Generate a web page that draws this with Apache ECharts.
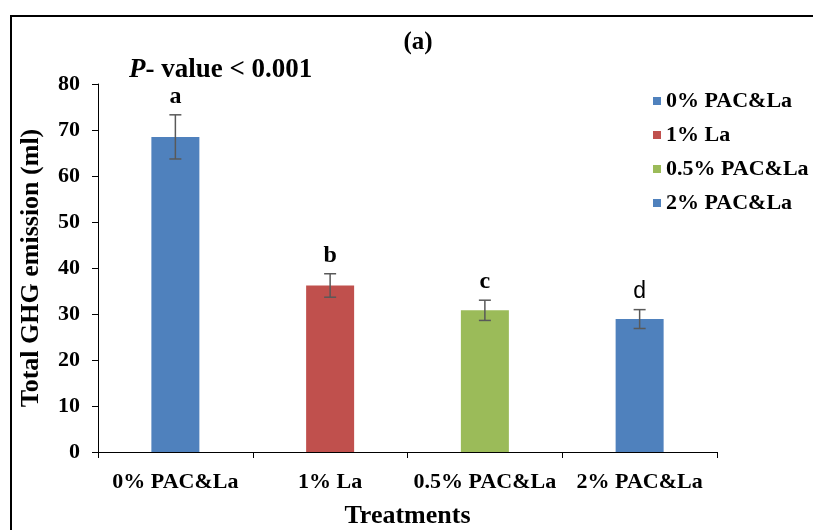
<!DOCTYPE html>
<html><head><meta charset="utf-8">
<script src="https://cdn.jsdelivr.net/npm/echarts@6/dist/echarts.min.js"></script>
<style>html,body{margin:0;padding:0;background:#fff}#c{width:813px;height:530px}</style>
</head><body><div id="c"></div>
<script>
const categories = ['0% PAC&La', '1% La', '0.5% PAC&La', '2% PAC&La'];
const legendNames = ['0% PAC&La', '1% La', '0.5% PAC&La', '2% PAC&La'];
const means = [68.5, 36.2, 30.8, 28.9];
const errors = [4.8, 2.55, 2.2, 2.05];
const letters = ['a', 'b', 'c', 'd'];
const colors = ['#4F81BD', '#C0504D', '#9BBB59', '#4F81BD'];
const yTicks = [0, 10, 20, 30, 40, 50, 60, 70, 80];

const serif = '"Liberation Serif", "Times New Roman", serif';
const chart = echarts.init(document.getElementById('c'));

const barSeries = categories.map((c, i) => ({
  name: legendNames[i],
  type: 'bar',
  data: categories.map((_, j) => j === i ? means[j] : '-'),
  barWidth: 48,
  barGap: '-100%',
  itemStyle: { color: colors[i] },
  z: 2
}));

const errSeries = {
  type: 'custom',
  z: 5,
  data: means.map((m, i) => [i, m, errors[i]]),
  renderItem: function (params, api) {
    const i = api.value(0), m = api.value(1), e = api.value(2);
    const top = api.coord([i, m + e]);
    const bot = api.coord([i, m - e]);
    const hw = 6;
    const st = { stroke: '#595959', lineWidth: 1.5 };
    const letter = letters[i];
    const isD = letter === 'd';
    return {
      type: 'group',
      children: [
        { type: 'line', shape: { x1: top[0], y1: top[1], x2: bot[0], y2: bot[1] }, style: st },
        { type: 'line', shape: { x1: top[0] - hw, y1: top[1], x2: top[0] + hw, y2: top[1] }, style: st },
        { type: 'line', shape: { x1: bot[0] - hw, y1: bot[1], x2: bot[0] + hw, y2: bot[1] }, style: st },
        { type: 'text', style: {
            text: letter, x: top[0], y: top[1] - 18,
            align: 'center', verticalAlign: 'middle',
            font: isD ? 'normal 23px "Liberation Sans", Arial, sans-serif' : 'bold 24px ' + serif,
            fill: '#000'
        } }
      ]
    };
  }
};

chart.setOption({
  animation: false,
  backgroundColor: '#fff',
  grid: { left: 98, right: 96, top: 84, bottom: 78, containLabel: false, outerBoundsMode: 'none' },
  title: [
    { text: '(a)', left: 413, top: 25, textAlign: 'center',
      textStyle: { fontFamily: serif, fontWeight: 'bold', fontSize: 25, color: '#000' } },
    { text: '{i|P}{n|- value < 0.001}', left: 124, top: 52,
      textStyle: { rich: {
        i: { fontFamily: serif, fontWeight: 'bold', fontStyle: 'italic', fontSize: 27, color: '#000' },
        n: { fontFamily: serif, fontWeight: 'bold', fontSize: 27, color: '#000' } } } }
  ],
  legend: {
    orient: 'vertical', left: 648, top: 85, itemGap: 12,
    icon: 'rect', itemWidth: 8, itemHeight: 8,
    data: legendNames,
    textStyle: { fontFamily: serif, fontWeight: 'bold', fontSize: 22, color: '#000' }
  },
  xAxis: {
    type: 'category', data: categories,
    name: 'Treatments', nameLocation: 'middle', nameGap: 51,
    nameTextStyle: { fontFamily: serif, fontWeight: 'bold', fontSize: 26, color: '#000' },
    axisLine: { lineStyle: { color: '#000', width: 1 } },
    axisTick: { show: true, inside: false, length: 6, lineStyle: { color: '#000' } },
    axisLabel: { interval: 0, margin: 19, fontFamily: serif, fontWeight: 'bold', fontSize: 22, color: '#000' }
  },
  yAxis: {
    type: 'value', min: 0, max: 80, interval: 10,
    name: 'Total GHG emission (ml)', nameLocation: 'middle', nameGap: 54,
    nameTextStyle: { fontFamily: serif, fontWeight: 'bold', fontSize: 26, color: '#000' },
    axisLine: { show: true, lineStyle: { color: '#000', width: 1 } },
    axisTick: { show: true, inside: false, length: 6, lineStyle: { color: '#000' } },
    splitLine: { show: false },
    axisLabel: { margin: 18, fontFamily: serif, fontWeight: 'bold', fontSize: 22, color: '#000',
      formatter: v => yTicks.indexOf(v) >= 0 ? String(v) : '' }
  },
  graphic: [
    { type: 'rect', shape: { x: 11, y: 16, width: 1000, height: 1000 },
      style: { fill: 'none', stroke: '#000', lineWidth: 2 }, silent: true, z: 100 }
  ],
  series: [...barSeries, errSeries]
});
</script></body></html>
